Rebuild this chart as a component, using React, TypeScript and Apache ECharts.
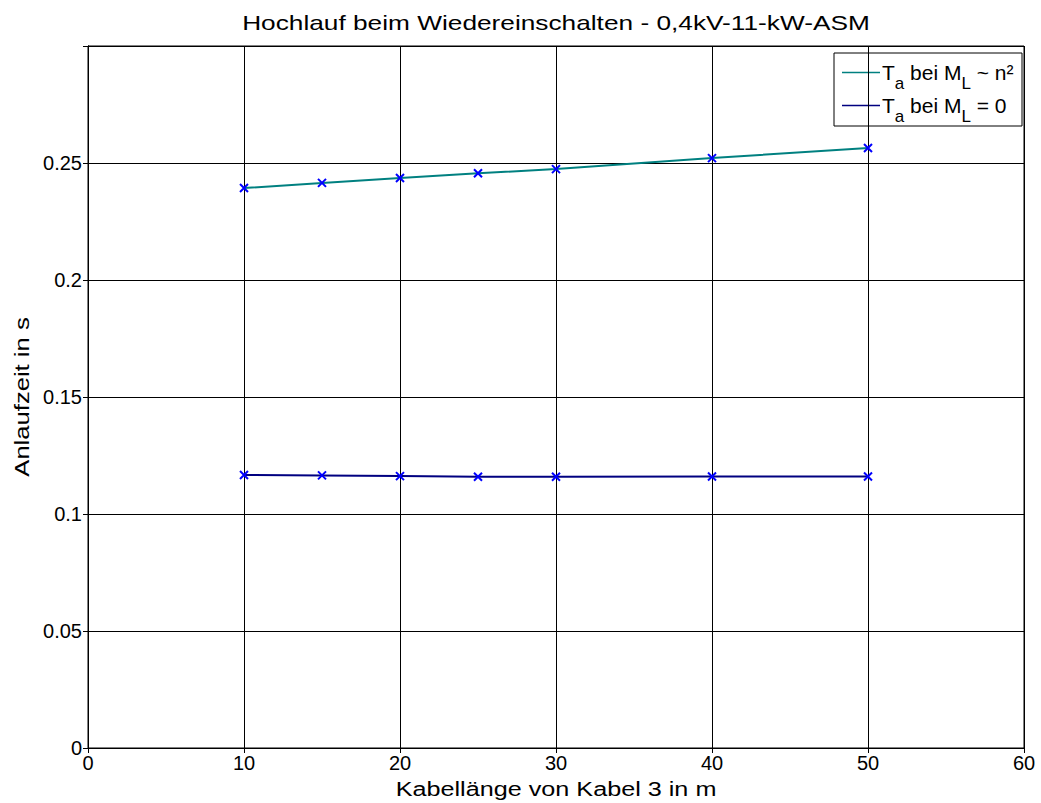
import React, { useEffect, useRef } from "react";
import * as echarts from "echarts";

// Cable length of cable 3 (m)
const cableLength = [10, 15, 20, 25, 30, 40, 50];
// Run-up time with load torque ~ n²
const runUpQuadratic = [0.2393, 0.2415, 0.2436, 0.2456, 0.2474, 0.2521, 0.2564];
// Run-up time without load torque
const runUpNoLoad = [0.1167, 0.1165, 0.1162, 0.1159, 0.1159, 0.116, 0.116];

const xTicks = [0, 10, 20, 30, 40, 50, 60];
const yTicks = [0, 0.05, 0.1, 0.15, 0.2, 0.25];

const titleText = "Hochlauf beim Wiedereinschalten - 0,4kV-11-kW-ASM";
const xName = "Kabellänge von Kabel 3 in m";
const yName = "Anlaufzeit in s";

const legendEntries = [
  { parts: ["T", "a", " bei M", "L", " ~ n²"], color: "#008080" },
  { parts: ["T", "a", " bei M", "L", " = 0"], color: "#000080" },
];

const FONT = 'Arial, "Liberation Sans", sans-serif';
const W = 1041;
const H = 803;
const PL = 88;
const PR = 1024;
const PT = 46;
const PB = 748;

function measure(str: string, size: number): number {
  const ctx = document.createElement("canvas").getContext("2d");
  if (!ctx) return str.length * size * 0.55;
  ctx.font = `${size}px ${FONT}`;
  return ctx.measureText(str).width;
}

function buildLegend(): any[] {
  const mainSize = 21;
  const subSize = 17;
  const boxX = 834;
  const boxY = 53;
  const children: any[] = [
    {
      type: "rect",
      shape: { x: boxX, y: boxY, width: 188, height: 73 },
      style: { fill: "#ffffff", stroke: "#000000", lineWidth: 1 },
    },
  ];
  legendEntries.forEach((entry, i) => {
    const yLine = 72.5 + i * 33;
    children.push({
      type: "line",
      shape: { x1: 842, y1: yLine, x2: 880, y2: yLine },
      style: { stroke: entry.color, lineWidth: 1.5 },
    });
    let x = 882;
    entry.parts.forEach((p, k) => {
      const sub = k % 2 === 1;
      const size = sub ? subSize : mainSize;
      children.push({
        type: "text",
        x,
        y: sub ? yLine + 11 : yLine,
        style: {
          text: p,
          fontSize: size,
          fontFamily: FONT,
          fill: "#000000",
          align: "left",
          verticalAlign: "middle",
        },
      });
      x += measure(p, size);
    });
  });
  return children;
}

function fmtY(v: number): string {
  const r = Math.round(v * 1000) / 1000;
  if (r > yTicks[yTicks.length - 1] + 0.01) return "";
  return String(parseFloat(r.toFixed(2)));
}

export default function App() {
  const ref = useRef<HTMLDivElement>(null);

  useEffect(() => {
    if (!ref.current) return;
    const chart = echarts.init(ref.current, null, { renderer: "svg" });

    const tickStyle = { show: true, inside: true, length: 5, lineStyle: { color: "#000", width: 1 } };
    const labelStyle = { fontSize: 20, fontFamily: FONT, color: "#000" };
    const markerStyle = {
      color: "#0000ff",
      borderColor: "#0000ff",
      borderWidth: 2,
    };

    chart.setOption({
      animation: false,
      backgroundColor: "#ffffff",
      grid: {
        left: PL,
        right: W - PR,
        top: PT,
        bottom: H - PB,
        show: true,
        borderColor: "#000",
        borderWidth: 1,
        backgroundColor: "#ffffff",
      },
      xAxis: [
        {
          type: "value",
          min: xTicks[0],
          max: xTicks[xTicks.length - 1],
          interval: 10,
          position: "bottom",
          axisLine: { show: true, lineStyle: { color: "#000", width: 1 } },
          axisTick: tickStyle,
          axisLabel: { ...labelStyle, margin: 5 },
          splitLine: { show: true, lineStyle: { color: "#000", width: 1 } },
        },
        {
          type: "value",
          min: xTicks[0],
          max: xTicks[xTicks.length - 1],
          interval: 10,
          position: "top",
          axisLine: { show: true, lineStyle: { color: "#000", width: 1 } },
          axisTick: tickStyle,
          axisLabel: { show: false },
          splitLine: { show: false },
        },
      ],
      yAxis: [
        {
          type: "value",
          min: 0,
          max: 0.3,
          interval: 0.05,
          position: "left",
          axisLine: { show: true, lineStyle: { color: "#000", width: 1 } },
          axisTick: tickStyle,
          axisLabel: { ...labelStyle, margin: 6, formatter: (v: number) => fmtY(v) },
          splitLine: { show: true, lineStyle: { color: "#000", width: 1 } },
        },
        {
          type: "value",
          min: 0,
          max: 0.3,
          interval: 0.05,
          position: "right",
          axisLine: { show: true, lineStyle: { color: "#000", width: 1 } },
          axisTick: tickStyle,
          axisLabel: { show: false },
          splitLine: { show: false },
        },
      ],
      series: [
        {
          name: "quadratic",
          type: "line",
          data: cableLength.map((x, i) => [x, runUpQuadratic[i]]),
          lineStyle: { color: "#008080", width: 2 },
          symbol: "path://M0,0L10,10M10,0L0,10",
          symbolSize: 8,
          itemStyle: markerStyle,
          z: 3,
        },
        {
          name: "noload",
          type: "line",
          data: cableLength.map((x, i) => [x, runUpNoLoad[i]]),
          lineStyle: { color: "#000080", width: 2 },
          symbol: "path://M0,0L10,10M10,0L0,10",
          symbolSize: 8,
          itemStyle: markerStyle,
          z: 3,
        },
      ],
      graphic: [
        {
          type: "text",
          x: (PL + PR) / 2,
          y: 22.5,
          scaleX: 1.25,
          style: {
            text: titleText,
            fontSize: 21,
            fontFamily: FONT,
            fill: "#000",
            align: "center",
            verticalAlign: "middle",
          },
        },
        {
          type: "text",
          x: (PL + PR) / 2,
          y: 789,
          scaleX: 1.2,
          style: {
            text: xName,
            fontSize: 21,
            fontFamily: FONT,
            fill: "#000",
            align: "center",
            verticalAlign: "middle",
          },
        },
        {
          type: "text",
          x: 21.5,
          y: 397,
          rotation: Math.PI / 2,
          scaleX: 1.22,
          style: {
            text: yName,
            fontSize: 21,
            fontFamily: FONT,
            fill: "#000",
            align: "center",
            verticalAlign: "middle",
          },
        },
        { type: "group", children: buildLegend() },
      ],
    });

    return () => chart.dispose();
  }, []);

  return (
    <div
      ref={ref}
      style={{ position: "fixed", left: 0, top: 0, width: W, height: H, background: "#fff" }}
    />
  );
}
